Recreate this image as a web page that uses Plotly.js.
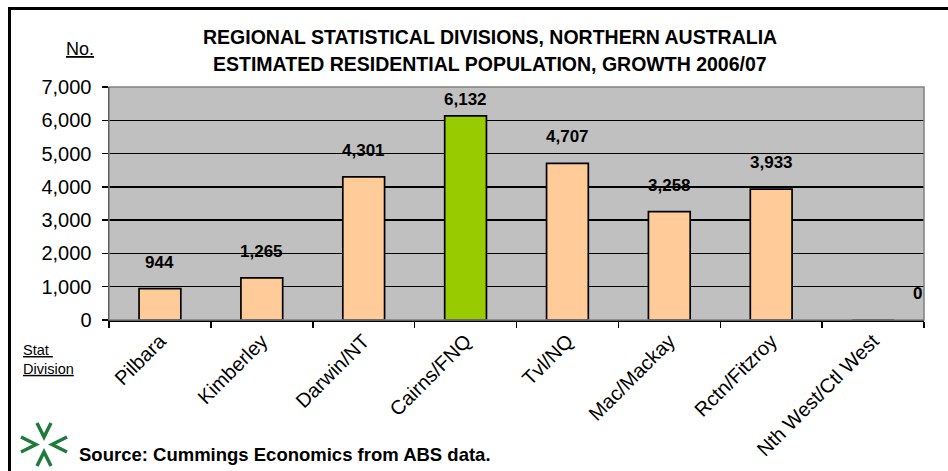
<!DOCTYPE html>
<html>
<head>
<meta charset="utf-8">
<script src="https://cdn.plot.ly/plotly-3.0.1.min.js"></script>
<style>html,body{margin:0;padding:0;background:#fff;}#chart{width:948px;height:471px;}</style>
</head>
<body>
<div id="chart"></div>
<script>
const categories = ["Pilbara", "Kimberley", "Darwin/NT", "Cairns/FNQ", "Tvl/NQ", "Mac/Mackay", "Rctn/Fitzroy", "Nth West/Ctl West"];
const growth = [944, 1265, 4301, 6132, 4707, 3258, 3933, 0];
const highlight = "Cairns/FNQ";
const yTickVals = [0, 1000, 2000, 3000, 4000, 5000, 6000, 7000];
const yTickText = ["0", "1,000", "2,000", "3,000", "4,000", "5,000", "6,000", "7,000"];
const titleLines = ["REGIONAL STATISTICAL DIVISIONS, NORTHERN AUSTRALIA", "ESTIMATED RESIDENTIAL POPULATION, GROWTH 2006/07"];

const W = 948, H = 471;
const L = 109, R = 924, T = 87, B = 320;
const YMAX = 7000;
const px = x => (x - L) / (R - L);
const py = y => (B - y) / (B - T);
const FONT = "Liberation Sans, Arial, sans-serif";

const barColors = categories.map(c => c === highlight ? "#99CC00" : "#FFCC99");

const trace = {
  type: "bar",
  x: categories,
  y: growth,
  marker: { color: barColors, line: { color: "#000", width: 1.7 } },
  hoverinfo: "x+y"
};

const annotations = categories.map((c, i) => {
  const topPx = B - growth[i] * (B - T) / YMAX;
  const shift = Math.min(15, topPx - 111);
  return {
    x: c, y: growth[i], xref: "x", yref: "y",
    text: "<b>" + growth[i].toLocaleString("en-US") + "</b>",
    showarrow: false, yanchor: "bottom", yshift: shift,
    xshift: growth[i] === 0 ? 44 : 0,
    font: { family: FONT, size: 17, color: "#000" }
  };
});

titleLines.forEach((t, i) => annotations.push({
  xref: "paper", yref: "paper", x: px(490), y: py(37 + 27 * i), xanchor: "center", yanchor: "middle",
  text: "<b>" + t + "</b>", showarrow: false, font: { family: FONT, size: 19.5, color: "#000" }
}));

annotations.push({
  xref: "paper", yref: "paper", x: px(80), y: py(49), xanchor: "center", yanchor: "middle",
  text: "<u>No.</u>", showarrow: false, font: { family: FONT, size: 18, color: "#000" }
});
annotations.push({
  xref: "paper", yref: "paper", x: px(21), y: py(359), xanchor: "left", yanchor: "middle",
  text: "<u>Stat </u><br><u>Division</u>", align: "left", showarrow: false,
  font: { family: FONT, size: 14.5, color: "#000" }
});
annotations.push({
  xref: "paper", yref: "paper", x: px(77), y: py(454), xanchor: "left", yanchor: "middle",
  text: "<b>Source: Cummings Economics from ABS data.</b>", showarrow: false,
  font: { family: FONT, size: 18.5, color: "#000" }
});

const g = "#1E7B3C";
function chev(pts) {
  return {
    type: "path", xref: "paper", yref: "paper",
    path: "M" + pts.map(p => px(p[0]) + "," + py(p[1])).join(" L"),
    line: { color: g, width: 3.5 }
  };
}

const shapes = [
  // outer frame
  { type: "path", xref: "paper", yref: "paper",
    path: "M" + px(9.5) + "," + py(490) + " L" + px(9.5) + "," + py(8.5) + " L" + px(990) + "," + py(8.5),
    line: { color: "#000", width: 3 } },
  // plot area border
  { type: "rect", xref: "paper", yref: "paper", x0: 0, x1: 1, y0: 0, y1: 1,
    line: { color: "#808080", width: 1.5 }, layer: "above" },
  // logo chevrons
  chev([[37, 423], [44, 437], [51, 423]]),
  chev([[37, 466], [44, 452], [51, 466]]),
  chev([[21, 437], [36, 444.5], [21, 452]]),
  chev([[67, 437], [52, 444.5], [67, 452]])
];

const layout = {
  width: W, height: H,
  margin: { l: L, r: W - R, t: T, b: H - B, pad: 0 },
  paper_bgcolor: "#fff",
  plot_bgcolor: "#C0C0C0",
  showlegend: false,
  bargap: 0.59,
  xaxis: {
    type: "category",
    tickangle: -45,
    tickson: "boundaries",
    ticks: "outside", ticklen: 6, tickwidth: 1.5, tickcolor: "#000",
    showline: true, linecolor: "#000", linewidth: 1.5,
    showgrid: false,
    automargin: false,
    tickfont: { family: FONT, size: 20, color: "#000" }
  },
  yaxis: {
    range: [0, YMAX],
    tickvals: yTickVals, ticktext: yTickText,
    ticks: "outside", ticklen: 6, tickwidth: 1.5, tickcolor: "#000",
    ticklabelstandoff: 6,
    showline: true, linecolor: "#000", linewidth: 1.5,
    showgrid: true, gridcolor: "#000", gridwidth: 1.5,
    zeroline: false,
    automargin: false,
    tickfont: { family: FONT, size: 20, color: "#000" }
  },
  annotations: annotations,
  shapes: shapes
};

Plotly.newPlot("chart", [trace], layout, { displayModeBar: false, staticPlot: true });
</script>
</body>
</html>
